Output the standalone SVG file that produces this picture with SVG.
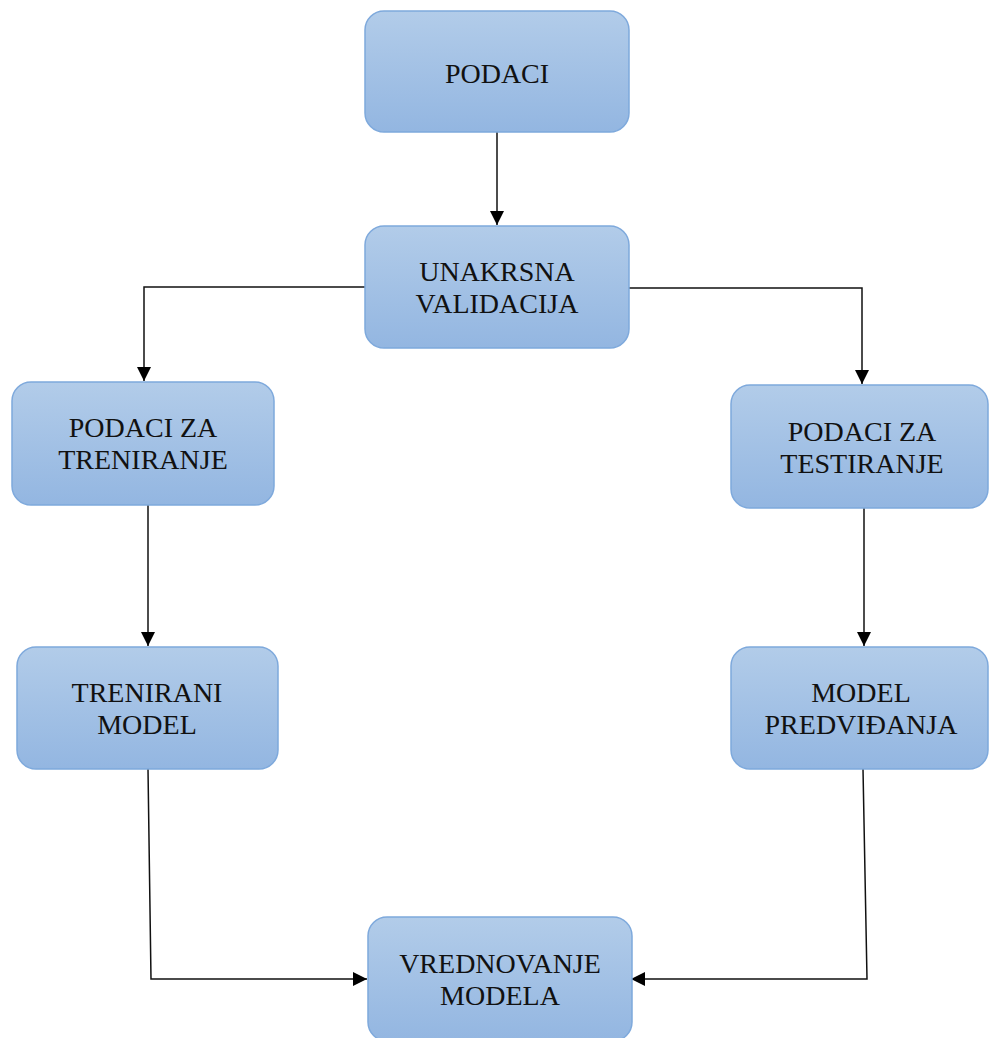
<svg xmlns="http://www.w3.org/2000/svg" width="989" height="1038" viewBox="0 0 989 1038">
<style>
.box{fill:url(#g);stroke:#7ea9dc;stroke-width:1.5}
.t{font-family:"Liberation Serif","Times New Roman",serif;font-size:28px;fill:#111;text-anchor:middle}
.c{fill:none;stroke:#111;stroke-width:1.5}
</style>
<defs>
<linearGradient id="g" x1="0" y1="0" x2="0" y2="1">
<stop offset="0" stop-color="#b2cce9"/>
<stop offset="1" stop-color="#93b6e1"/>
</linearGradient>
<marker id="b" viewBox="0 0 10 10" refX="10" refY="5" markerWidth="14" markerHeight="14" markerUnits="userSpaceOnUse" orient="auto">
<path d="M0,0 L10,5 L0,10 Z" fill="#000"/>
</marker>
</defs>
<g id="connectors">
<path class="c" d="M497,132 L497,225" marker-end="url(#b)"/>
<path class="c" d="M365,287 L144,287 L144,381" marker-end="url(#b)"/>
<path class="c" d="M629,288 L862,288 L862,384" marker-end="url(#b)"/>
<path class="c" d="M148,505 L148,646" marker-end="url(#b)"/>
<path class="c" d="M864,508 L864,646" marker-end="url(#b)"/>
<path class="c" d="M148,769 L151,979 L367,979" marker-end="url(#b)"/>
<path class="c" d="M863,769 L867,979 L631,979" marker-end="url(#b)"/>
</g>
<g id="podaci">
<rect class="box" x="365" y="11" width="264" height="121" rx="19"/>
<text class="t" x="497" y="83">PODACI</text>
</g>
<g id="unakrsna">
<rect class="box" x="365" y="226" width="264" height="122" rx="19"/>
<text class="t" x="497" y="281">UNAKRSNA</text>
<text class="t" x="497" y="313">VALIDACIJA</text>
</g>
<g id="treniranje">
<rect class="box" x="12" y="382" width="262" height="123" rx="19"/>
<text class="t" x="143" y="437">PODACI ZA</text>
<text class="t" x="143" y="469">TRENIRANJE</text>
</g>
<g id="testiranje">
<rect class="box" x="731" y="385" width="257" height="123" rx="19"/>
<text class="t" x="862" y="441">PODACI ZA</text>
<text class="t" x="862" y="473">TESTIRANJE</text>
</g>
<g id="trenirani">
<rect class="box" x="17" y="647" width="261" height="122" rx="19"/>
<text class="t" x="147" y="702">TRENIRANI</text>
<text class="t" x="147" y="734">MODEL</text>
</g>
<g id="predvidjanja">
<rect class="box" x="731" y="647" width="257" height="122" rx="19"/>
<text class="t" x="861" y="702">MODEL</text>
<text class="t" x="861" y="734">PREDVIĐANJA</text>
</g>
<g id="vrednovanje">
<rect class="box" x="368" y="917" width="264" height="124" rx="19"/>
<text class="t" x="500" y="973">VREDNOVANJE</text>
<text class="t" x="500" y="1005">MODELA</text>
</g>
</svg>
